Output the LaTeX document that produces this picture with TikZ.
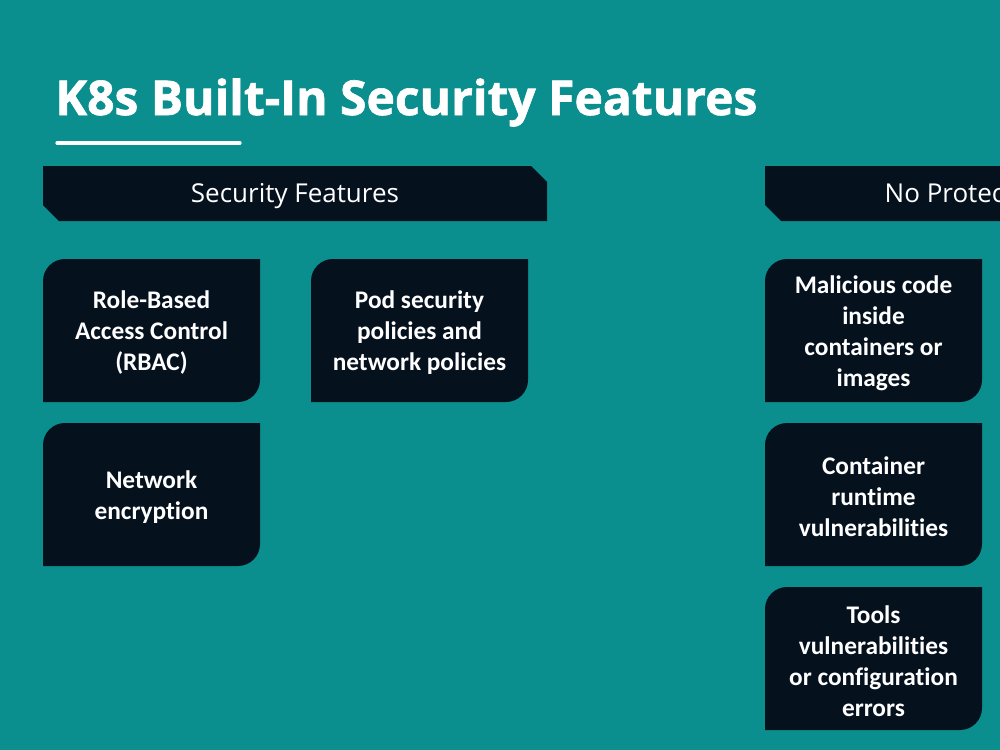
\documentclass[tikz,border=0pt]{standalone}
\usepackage{fontspec}
\setmainfont{Carlito}[Ligatures=NoCommon]
\newfontfamily\titlefont{Open Sans}[BoldFeatures={FakeBold=1.3}]
\newfontfamily\headfont{Open Sans}
\definecolor{bgteal}{HTML}{0A8F8E}
\definecolor{navy}{HTML}{06111E}
\begin{document}
\begin{tikzpicture}[x=0.75pt,y=-0.75pt,
  boxtext/.style={text=white,font=\bfseries\fontsize{19}{23.25}\selectfont,align=center},
  headtext/.style={text=white,font=\headfont\fontsize{19.5}{22}\selectfont},
  ]
\useasboundingbox (0,0) rectangle (1000,750);
\fill[bgteal] (0,0) rectangle (1000,750);
% title
\node[anchor=base west,inner sep=0,text=white,font=\titlefont\bfseries\fontsize{36}{40}\selectfont] (title) at (55,115) {K8s Built-In Security Features};
\draw[white,line width=2.4pt,line cap=round] (57,143) -- (240,143);
% headers
\fill[navy] (43,166) -- (531,166) -- (547,182) -- (547,221) -- (59,221) -- (43,205) -- cycle;
\node[headtext] (h1) at (295,196) {Security Features};
\begin{scope}
\clip (0,0) rectangle (1000,750);
\fill[navy] (765,166) -- (1100,166) -- (1100,221) -- (781,221) -- (765,205) -- cycle;
\node[headtext,anchor=west] (h2) at (880,196) {No Protection Against};
\end{scope}
% leaf boxes
\fill[navy] (43,281) arc[start angle=180,end angle=270,radius=22] -- (260,259) -- (260,380) arc[start angle=0,end angle=90,radius=22] -- (43,402) -- cycle;
\fill[navy] (311,281) arc[start angle=180,end angle=270,radius=22] -- (528,259) -- (528,380) arc[start angle=0,end angle=90,radius=22] -- (311,402) -- cycle;
\fill[navy] (43,445) arc[start angle=180,end angle=270,radius=22] -- (260,423) -- (260,544) arc[start angle=0,end angle=90,radius=22] -- (43,566) -- cycle;
\fill[navy] (765,281) arc[start angle=180,end angle=270,radius=22] -- (982,259) -- (982,380) arc[start angle=0,end angle=90,radius=22] -- (765,402) -- cycle;
\fill[navy] (765,445) arc[start angle=180,end angle=270,radius=22] -- (982,423) -- (982,544) arc[start angle=0,end angle=90,radius=22] -- (765,566) -- cycle;
\fill[navy] (765,609) arc[start angle=180,end angle=270,radius=22] -- (982,587) -- (982,708) arc[start angle=0,end angle=90,radius=22] -- (765,730) -- cycle;
\node[boxtext] (rbac) at (151.5,333) {Role-Based\\Access Control\\(RBAC)};
\node[boxtext] (pod) at (419.5,333) {Pod security\\policies and\\network policies};
\node[boxtext] (enc) at (151.5,497) {Network\\encryption};
\node[boxtext] (mal) at (873.5,333) {Malicious code\\inside\\containers or\\images};
\node[boxtext] (rt) at (873.5,497) {Container\\runtime\\vulnerabilities};
\node[boxtext] (tools) at (873.5,661) {Tools\\vulnerabilities\\or configuration\\errors};
\end{tikzpicture}
\end{document}
